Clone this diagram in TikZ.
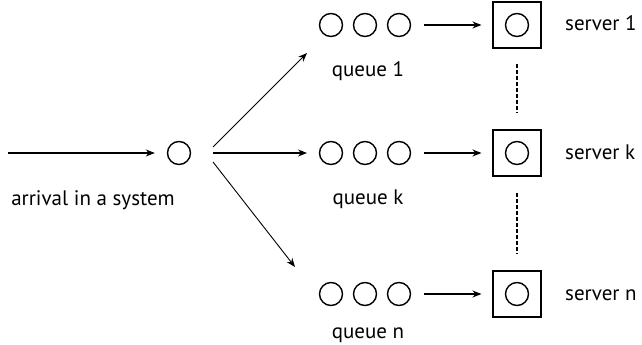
\documentclass[tikz,border=0pt]{standalone}
\usepackage{fontspec}
\setmainfont{PT Sans}
\usetikzlibrary{arrows.meta}
\begin{document}
\begin{tikzpicture}[x=1pt,y=-1pt,
  job/.style={circle,draw,line width=1.4pt,minimum size=23pt,inner sep=0pt},
  srv/.style={rectangle,draw,line width=1.1pt,minimum width=48pt,minimum height=46pt,inner sep=0pt},
  flow/.style={line width=1.1pt,-{Stealth[length=9pt,width=7pt]}},
  fan/.style={line width=0.9pt,-{Stealth[length=9pt,width=7pt]}},
  gap/.style={line width=1.6pt,dash pattern=on 4pt off 2pt},
  lbl/.style={font=\fontsize{21pt}{24pt}\selectfont,inner sep=0pt,anchor=base}]
\useasboundingbox (0,0) rectangle (642,345);

% arrival point
\coordinate (src) at (8,153);
\node[job] (arr) at (179,153) {};
\node[lbl] (arrlbl) at (93,205) {arrival in a system};
\draw[flow,shorten >=12pt] (src) -- (arr);

% the three queues, each with its server
\foreach \r/\y/\b/\t in {1/25/76/1, k/153/204/k, n/294/338/n}{
  \node[job] (q\r a) at (331,\y) {};
  \node[job] (q\r b) at (365,\y) {};
  \node[job] (q\r c) at (399,\y) {};
  \node[lbl] (q\r lbl) at (368,\b) {queue \t};
  \node[srv] (s\r) at (517,\y) {};
  \node[job] (s\r in) at (517,\y) {};
  \node[lbl,anchor=base west] (s\r lbl) at (565,\y+6) {server \t};
  \draw[flow,shorten <=13pt,shorten >=11pt] (q\r c) -- (s\r);
}

% dispatch from the arrival point
\coordinate (f1s) at (213,147); \coordinate (f1e) at (307,53);
\coordinate (fks) at (213,153); \coordinate (fke) at (307,153);
\coordinate (fns) at (213,162); \coordinate (fne) at (295,267);
\draw[fan] (f1s) -- (f1e);
\draw[flow] (fks) -- (fke);
\draw[fan] (fns) -- (fne);

% servers in between
\draw[gap,shorten <=15pt,shorten >=17pt] (s1) -- (sk);
\draw[gap,shorten <=16pt,shorten >=16pt] (sk) -- (sn);
\end{tikzpicture}
\end{document}
